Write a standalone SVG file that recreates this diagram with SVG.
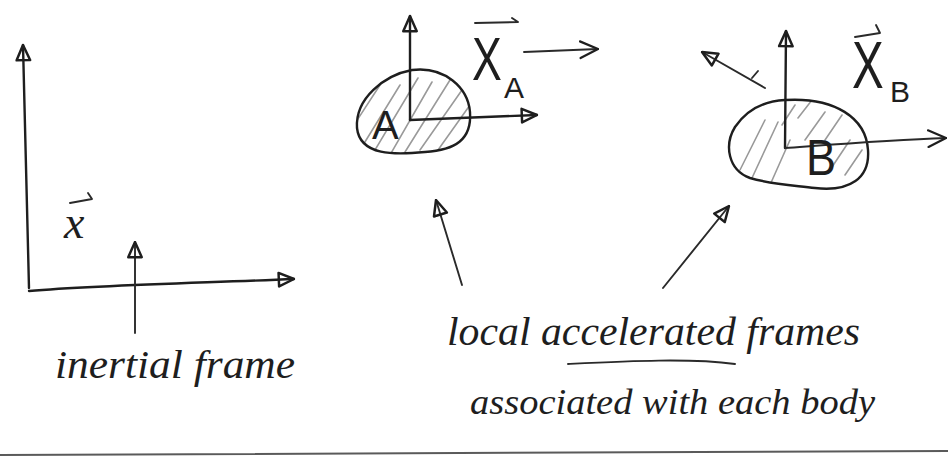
<svg xmlns="http://www.w3.org/2000/svg" width="948" height="459" viewBox="0 0 948 459">
  <style>
    .ink { fill: none; stroke: #1e1e1e; stroke-width: 2.4; stroke-linecap: round; stroke-linejoin: round; }
    .thin { fill: none; stroke: #2a2a2a; stroke-width: 1.9; stroke-linecap: round; stroke-linejoin: round; }
    .hatch { stroke: #9a9a9a; stroke-width: 1.6; stroke-linecap: round; }
    .hand { font-family: "Liberation Serif", "DejaVu Serif", serif; font-style: italic; fill: #1e1e1e; }
    .letter { font-family: "Liberation Sans", "DejaVu Sans", sans-serif; fill: #1e1e1e; }
  </style>
  <defs>
    <marker id="tri" viewBox="0 0 16 16" refX="15" refY="8" markerWidth="18" markerHeight="18" markerUnits="userSpaceOnUse" orient="auto">
      <path d="M1.5,2 L15,8 L1.5,14 Z" fill="none" stroke="#1e1e1e" stroke-width="2.2" stroke-linejoin="round"/>
    </marker>
    <marker id="chev" viewBox="0 0 18 18" refX="17" refY="9" markerWidth="20" markerHeight="20" markerUnits="userSpaceOnUse" orient="auto">
      <path d="M1,1.5 L17,9 L1,16.5" fill="none" stroke="#1e1e1e" stroke-width="2" stroke-linecap="round" stroke-linejoin="round"/>
    </marker>
    <clipPath id="clipA">
      <path d="M412,70 C445,66 468,88 470,112 C472,140 455,150 425,152 C395,155 360,156 357,128 C355,98 385,75 412,70 Z"/>
    </clipPath>
    <clipPath id="clipB">
      <path d="M785,100 C835,97 866,118 868,150 C870,178 850,192 815,188 C790,185 770,184 750,178 C728,170 724,145 735,127 C748,108 765,101 785,100 Z"/>
    </clipPath>
  </defs>

  <rect width="948" height="459" fill="#ffffff"/>

  <!-- inertial frame -->
  <g id="inertial-frame">
    <path class="ink" d="M29,288 L23,45" marker-end="url(#tri)"/>
    <path class="ink" d="M29,291 C100,285 200,283 294,279" marker-end="url(#tri)"/>
    <text class="hand" x="64" y="238" font-size="46">x</text>
    <path class="thin" d="M70,203 L92,199 L88,193"/>
  </g>

  <!-- body A with its local frame -->
  <g id="body-A">
    <g clip-path="url(#clipA)">
      <path class="hatch" d="M360,150 L400,85 M372,155 L418,78 M390,155 L432,82 M405,152 L450,80 M420,150 L462,90 M438,150 L470,105 M352,128 L380,85"/>
    </g>
    <path class="ink" d="M412,70 C445,66 468,88 470,112 C472,140 455,150 425,152 C395,155 360,156 357,128 C355,98 385,75 412,70 Z"/>
    <path class="ink" d="M410,120 L410,16" marker-end="url(#tri)"/>
    <path class="ink" d="M410,120 L537,115" marker-end="url(#tri)"/>
    <text class="letter" x="372" y="139" font-size="40">A</text>
    <text class="letter" transform="translate(472,80) scale(0.72,1)" font-size="62">X</text>
    <text class="letter" x="504" y="98" font-size="30">A</text>
    <path class="thin" d="M475,23 L518,22 L512,18"/>
    <path class="thin" d="M524,52 L598,49" marker-end="url(#chev)"/>
  </g>

  <!-- body B with its local frame -->
  <g id="body-B">
    <g clip-path="url(#clipB)">
      <path class="hatch" d="M740,170 L765,120 M752,178 L778,122 M770,185 L790,140 M782,125 L795,105 M798,118 L812,100 M805,140 L825,112 M830,170 L850,140 M845,175 L862,150 M825,140 L842,115"/>
    </g>
    <path class="ink" d="M785,100 C835,97 866,118 868,150 C870,178 850,192 815,188 C790,185 770,184 750,178 C728,170 724,145 735,127 C748,108 765,101 785,100 Z"/>
    <path class="ink" d="M785,148 L786,31" marker-end="url(#tri)"/>
    <path class="thin" d="M785,148 C840,144 890,140 946,138" marker-end="url(#chev)"/>
    <text class="letter" transform="translate(806,175) scale(0.9,1)" font-size="50">B</text>
    <text class="letter" transform="translate(852,88) scale(0.72,1)" font-size="66">X</text>
    <text class="letter" x="890" y="102" font-size="30">B</text>
    <path class="thin" d="M855,37 L880,33 L876,25"/>
    <path class="thin" d="M765,88 L702,52" marker-end="url(#tri)"/>
    <path class="thin" d="M752,78 L758,71"/>
  </g>

  <!-- pointers from the labels -->
  <g id="connectors">
    <path class="thin" d="M135,333 L135,242" marker-end="url(#tri)"/>
    <path class="thin" d="M462,285 L436,200" marker-end="url(#tri)"/>
    <path class="thin" d="M663,288 L729,206" marker-end="url(#tri)"/>
    <path class="thin" d="M568,364 C630,361 690,358 735,364"/>
    <path fill="none" stroke="#5a5a5a" stroke-width="2" d="M0,455 C300,453 600,452 948,451"/>
  </g>

  <g id="labels">
    <text class="hand" x="55" y="378" font-size="40" textLength="240" lengthAdjust="spacingAndGlyphs">inertial frame</text>
    <text class="hand" x="447" y="345" font-size="40" textLength="413" lengthAdjust="spacingAndGlyphs">local accelerated frames</text>
    <text class="hand" x="470" y="414" font-size="36" textLength="405" lengthAdjust="spacingAndGlyphs">associated with each body</text>
  </g>
</svg>
